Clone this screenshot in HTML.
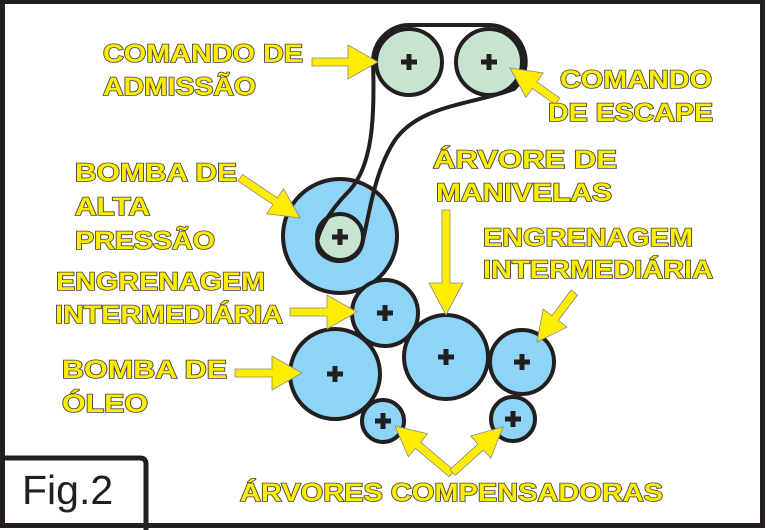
<!DOCTYPE html>
<html><head><meta charset="utf-8"><style>
html,body{margin:0;padding:0;background:#fff}
svg{display:block}
.t{font-family:"Liberation Sans",sans-serif;font-weight:bold;font-size:25px;fill:#ffed00;stroke:#444;stroke-width:1.6px;paint-order:stroke}
.c{stroke:#231f20;stroke-width:4}
.a{fill:#ffed00;stroke:#888;stroke-width:0.8}
.pl{stroke:#231f20;stroke-width:5;fill:none}
</style></head><body>
<svg width="766" height="530" viewBox="0 0 766 530" xmlns="http://www.w3.org/2000/svg">
<rect x="2.5" y="1.5" width="760" height="524" fill="#fff" stroke="#231f20" stroke-width="5"/>
<g class="c">
<circle cx="340" cy="236" r="57" fill="#8dd4f6"/>
<circle cx="385" cy="313" r="33" fill="#8dd4f6"/>
<circle cx="335" cy="374" r="45" fill="#8dd4f6"/>
<circle cx="446" cy="357" r="42" fill="#8dd4f6"/>
<circle cx="522" cy="362" r="32" fill="#8dd4f6"/>
<circle cx="383" cy="421" r="21" fill="#8dd4f6"/>
<circle cx="513" cy="419" r="22" fill="#8dd4f6"/>
<circle cx="340" cy="237" r="23" fill="#c6e4d0"/>
<circle cx="409" cy="62" r="33" fill="#c6e4d0"/>
<circle cx="489" cy="62" r="33" fill="#c6e4d0"/>
</g>
<path d="M409,25 L489,25 A37,37 0 0 1 514,89 C470,105 420,105 395,140 C375,170 370,210 362,245 C356,265 330,265 320,252 C310,240 330,210 350,190 C372,165 375,120 373,62 A36,37 0 0 1 409,25 Z" fill="none" stroke="#231f20" stroke-width="4"/>
<path class="pl" d="M401,62h16M409,54v16 M481,62h16M489,54v16 M332,237h16M340,229v16 M377,313h16M385,305v16 M327,374h16M335,366v16 M438,357h16M446,349v16 M514,362h16M522,354v16 M375,421h16M383,413v16 M505,419h16M513,411v16"/>
<g class="a">
<polygon points="312,58 348,58 348,45 378,62 348,79 348,66 312,66"/>
<polygon points="290,308 327,308 327,295 357,312 327,329 327,316 290,316"/>
<polygon points="235,369 272,369 272,356 302,373 272,390 272,377 235,377"/>
<polygon points="442,210 450,210 450,283 463,283 446,315 429,283 442,283"/>
<g transform="translate(300,218) rotate(34)"><polygon points="0,0 -30,-15 -30,-4 -72,-4 -72,4 -30,4 -30,15"/></g>
<g transform="translate(510,68) rotate(-145)"><polygon points="0,0 -30,-15 -30,-4 -58,-4 -58,4 -30,4 -30,15"/></g>
<g transform="translate(537,342) rotate(127)"><polygon points="0,0 -30,-15 -30,-4 -62,-4 -62,4 -30,4 -30,15"/></g>
<g transform="translate(395,426) rotate(-140)"><polygon points="0,0 -30,-15 -30,-4 -74,-4 -74,4 -30,4 -30,15"/></g>
<g transform="translate(503,427) rotate(-42)"><polygon points="0,0 -30,-15 -30,-4 -68,-4 -68,4 -30,4 -30,15"/></g>
</g>
<g class="t">
<text x="103" y="62" textLength="200" lengthAdjust="spacingAndGlyphs">COMANDO DE</text>
<text x="103" y="95" textLength="153" lengthAdjust="spacingAndGlyphs">ADMISSÃO</text>
<text x="560" y="88" textLength="152" lengthAdjust="spacingAndGlyphs">COMANDO</text>
<text x="548" y="121" textLength="165" lengthAdjust="spacingAndGlyphs">DE ESCAPE</text>
<text x="433" y="168" textLength="184" lengthAdjust="spacingAndGlyphs">ÁRVORE DE</text>
<text x="436" y="201" textLength="176" lengthAdjust="spacingAndGlyphs">MANIVELAS</text>
<text x="75" y="181" textLength="162" lengthAdjust="spacingAndGlyphs">BOMBA DE</text>
<text x="75" y="215" textLength="75" lengthAdjust="spacingAndGlyphs">ALTA</text>
<text x="75" y="249" textLength="140" lengthAdjust="spacingAndGlyphs">PRESSÃO</text>
<text x="483" y="246" textLength="210" lengthAdjust="spacingAndGlyphs">ENGRENAGEM</text>
<text x="483" y="278" textLength="230" lengthAdjust="spacingAndGlyphs">INTERMEDIÁRIA</text>
<text x="56" y="290" textLength="209" lengthAdjust="spacingAndGlyphs">ENGRENAGEM</text>
<text x="55" y="323" textLength="228" lengthAdjust="spacingAndGlyphs">INTERMEDIÁRIA</text>
<text x="62" y="378" textLength="165" lengthAdjust="spacingAndGlyphs">BOMBA DE</text>
<text x="62" y="412" textLength="86" lengthAdjust="spacingAndGlyphs">ÓLEO</text>
<text x="240" y="501" textLength="423" lengthAdjust="spacingAndGlyphs">ÁRVORES COMPENSADORAS</text>
</g>
<path d="M0,458 L140,458 Q146,458 146,464 L146,530" fill="none" stroke="#231f20" stroke-width="5"/>
<text x="22" y="504" font-family="Liberation Sans, sans-serif" font-size="41" fill="#231f20">Fig.2</text>
</svg>
</body></html>
